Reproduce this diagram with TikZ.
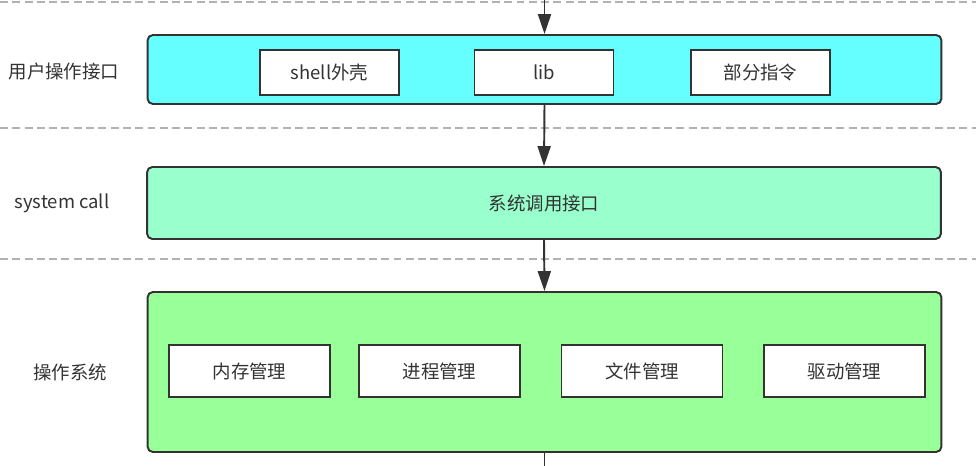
\documentclass[tikz,border=0pt]{standalone}
\usepackage{fontspec}
\setmainfont{Noto Sans CJK SC}
\usepackage{xcolor}
\usetikzlibrary{arrows.meta,positioning}
\definecolor{usercyan}{HTML}{66FFFF}
\definecolor{callmint}{HTML}{99FFCC}
\definecolor{osgreen}{HTML}{99FF99}
\definecolor{ink}{HTML}{333333}
\newcommand{\labelsize}{\fontsize{10.5}{12}\selectfont}
\tikzset{
  layer/.style={draw=ink, rounded corners=3pt, line width=1.1pt, minimum width=15.88cm, inner sep=0pt},
  part/.style={draw=ink, fill=white, line width=1.1pt, font=\labelsize, text=ink, inner sep=0pt},
  tag/.style={font=\labelsize, text=ink},
  arr/.style={-{Triangle[length=4mm,width=2.6mm]}, line width=1.1pt, draw=ink},
  sepline/.style={dashed, dash pattern=on 4.5pt off 2.5pt, line width=0.7pt, gray!60}
}
\begin{document}
\begin{tikzpicture}[x=0.02cm,y=-0.02cm]
\useasboundingbox (0,0) rectangle (976,466);

% separators
\draw[sepline] (0,2) -- (976,2);
\draw[sepline] (0,128) -- (976,128);
\draw[sepline] (0,259) -- (976,259);

% layers
\node[layer,fill=usercyan,minimum height=1.38cm] (user) at (544.5,69.5) {};
\node[layer,fill=callmint,minimum height=1.44cm,font=\labelsize,text=ink] (syscall) at (544,203) {系统调用接口};
\node[layer,fill=osgreen,minimum height=3.2cm] (os) at (544.5,372) {};

\node[tag] (usertag) at (64,72) {用户操作接口};
\node[tag] (calltag) at (62,203) {system call};
\node[tag] (ostag) at (70,372) {操作系统};

% user parts
\node[part,minimum width=2.78cm,minimum height=0.9cm] (shell) at (329.5,72.5) {shell外壳};
\node[part,minimum width=2.78cm,minimum height=0.9cm] (lib) at (544,72.5) {lib};
\node[part,minimum width=2.78cm,minimum height=0.9cm] (cmds) at (760.5,72.5) {部分指令};

% os parts
\node[part,minimum width=3.22cm,minimum height=1.04cm] (mem) at (249.5,371) {内存管理};
\node[part,minimum width=3.22cm,minimum height=1.04cm] (proc) at (439.5,371) {进程管理};
\node[part,minimum width=3.22cm,minimum height=1.04cm] (file) at (642,371) {文件管理};
\node[part,minimum width=3.22cm,minimum height=1.04cm] (drv) at (844.5,371) {驱动管理};

\coordinate (topin) at (544.5,-10);
\coordinate (botout) at (544.5,490);

\draw[arr] (topin) -- (user.north);
\draw[arr] (user.south) -- (syscall.north);
\draw[arr] (syscall.south) -- (os.north);
\draw[arr] (os.south) -- (botout);
\end{tikzpicture}
\end{document}
